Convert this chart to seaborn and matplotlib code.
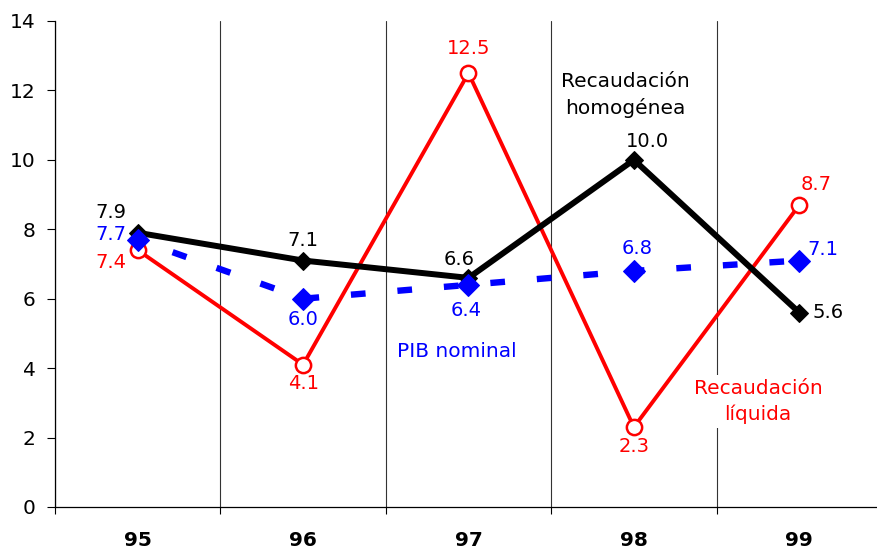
import matplotlib
matplotlib.use("Agg")
import matplotlib.pyplot as plt
import seaborn as sns
import pandas as pd

# data
years = ["95", "96", "97", "98", "99"]
rec_homogenea = [7.9, 7.1, 6.6, 10.0, 5.6]
pib_nominal = [7.7, 6.0, 6.4, 6.8, 7.1]
rec_liquida = [7.4, 4.1, 12.5, 2.3, 8.7]

sns.set_theme(style="white")
plt.rcParams["font.family"] = ["DejaVu Sans"]

fig = plt.figure(figsize=(8.78, 5.49), dpi=100)
ax = fig.add_axes([55 / 878, 1 - 507 / 549, 827 / 878, (507 - 21) / 549])

df = pd.DataFrame({"year": years, "homog": rec_homogenea,
                   "pib": pib_nominal, "liq": rec_liquida})

sns.lineplot(data=df, x="year", y="liq", ax=ax, color="#ff0000", lw=2.8,
             marker="o", markersize=11, markerfacecolor="white",
             markeredgecolor="#ff0000", markeredgewidth=1.8, zorder=4)
sns.lineplot(data=df, x="year", y="homog", ax=ax, color="black", lw=4.3,
             marker="D", markersize=9, markeredgecolor="black", zorder=5)
sns.lineplot(data=df, x="year", y="pib", ax=ax, color="#0000ff", lw=4.6,
             linestyle=(1.5, (2.3, 5.0)), marker="D", markersize=11.5,
             markeredgecolor="#0000ff", zorder=6)

# value labels: (offset in points, horizontal alignment)
fs = 14
black_off = [((-8, 14.4), "right"), ((0, 14.4), "center"), ((-7, 13), "center"),
             ((10, 13), "center"), ((9.4, 0), "left")]
blue_off = [((-8, 3.6), "right"), ((0, -15), "center"), ((-1.5, -18.7), "center"),
            ((2, 15.8), "center"), ((5.8, 8), "left")]
red_off = [((-8, -8.6), "right"), ((0, -13.7), "center"), ((0, 18), "center"),
           ((0, -13.7), "center"), ((12, 14.4), "center")]


def label_series(vals, offs, color):
    for i, (v, (off, ha)) in enumerate(zip(vals, offs)):
        ax.annotate(f"{v:.1f}", (i, v), xytext=off, textcoords="offset points",
                    ha=ha, va="center", color=color, fontsize=fs, zorder=7)


label_series(rec_homogenea, black_off, "black")
label_series(pib_nominal, blue_off, "#0000ff")
label_series(rec_liquida, red_off, "#ff0000")

box = dict(facecolor="white", edgecolor="none", pad=3)
ax.text(2.946, 11.87, "Recaudación\nhomogénea", ha="center", va="center",
        color="black", fontsize=14.5, linespacing=1.4, bbox=box, zorder=3)
ax.text(1.93, 4.47, "PIB nominal", ha="center", va="center",
        color="#0000ff", fontsize=14.5, bbox=box, zorder=3)
ax.text(3.75, 3.03, "Recaudación\nlíquida", ha="center", va="center",
        color="#ff0000", fontsize=14.5, linespacing=1.4, bbox=box, zorder=3)

ax.set_xlim(-0.5, 4.5)
ax.set_ylim(0, 14)
ax.set_yticks(range(0, 15, 2))
ax.set_xticks(range(len(years)))
ax.set_xticklabels(years, fontweight="bold", fontsize=14.5)
ax.set_xticks([i - 0.5 for i in range(len(years) + 1)], minor=True)
ax.grid(which="minor", axis="x", color="#333333", lw=0.8, zorder=1)
ax.set_axisbelow(True)
ax.tick_params(axis="x", which="major", length=0, pad=17, colors="black")
ax.tick_params(axis="x", which="minor", length=5, width=0.8, direction="out",
               color="black", bottom=True)
ax.tick_params(axis="y", length=5.8, width=0.8, direction="out", color="black",
               labelcolor="black", left=True, labelsize=14.5, pad=8)
ax.set_xlabel("")
ax.set_ylabel("")
for side in ["top", "right"]:
    ax.spines[side].set_visible(False)
for side in ["left", "bottom"]:
    ax.spines[side].set_color("black")
    ax.spines[side].set_linewidth(0.9)

fig.savefig("out.png", dpi=100)
